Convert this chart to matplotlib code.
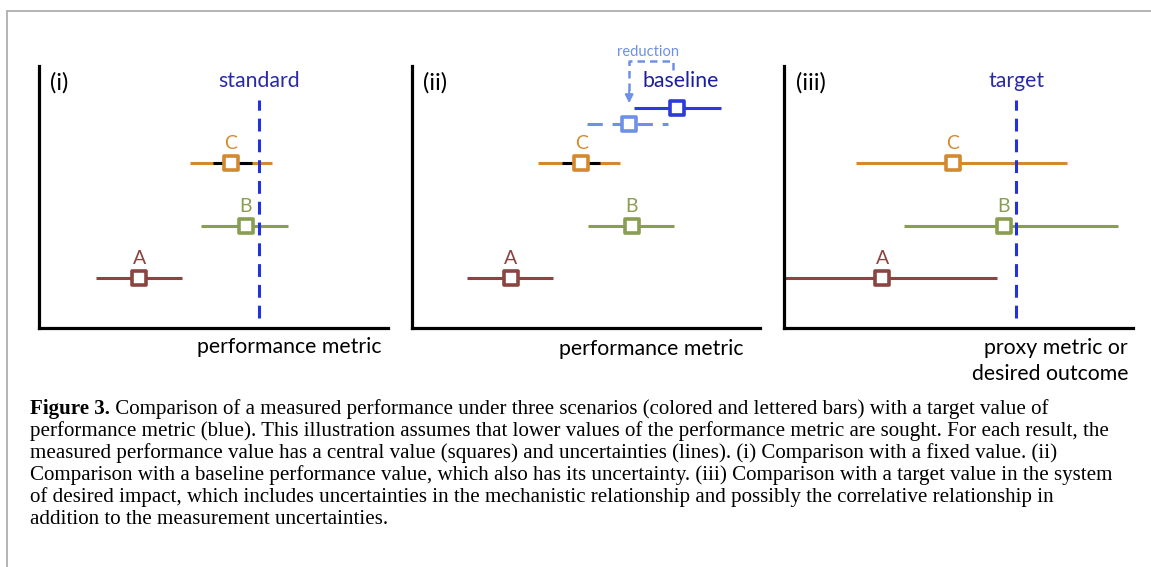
import matplotlib
matplotlib.use("Agg")
import matplotlib.pyplot as plt
from matplotlib.lines import Line2D
from matplotlib.markers import MarkerStyle

# --- data (metric units, 0-100 on each panel) ---
letters = ["A", "B", "C"]
levels = [19.1, 39.0, 63.0]
bar_colors = ["#8b4540", "#8a9e52", "#d4892e"]

p1_center = [28.7, 59.3, 55.0]
p1_low = [16.3, 46.4, 43.3]
p1_high = [41.0, 71.3, 66.8]
p1_inner = [49.9, 61.0]
p1_standard = 63.0

p2_center = [28.4, 63.2, 48.6]
p2_low = [15.8, 50.6, 36.2]
p2_high = [40.5, 75.3, 59.8]
p2_inner = [43.1, 54.0]
p2_base_level = 84.0
p2_base = [63.8, 76.1, 88.8]      # low, center, high
p2_reduced_level = 77.9
p2_reduced = [50.3, 62.4, 73.6]   # low, center, high

p3_center = [28.1, 63.0, 48.4]
p3_low = [0.3, 34.4, 20.6]
p3_high = [61.0, 95.7, 81.1]
p3_target = 66.5

ref_span = [3.8, 87.0]

caption_bold = "Figure 3."
caption_lines = [
    " Comparison of a measured performance under three scenarios (colored and lettered bars) with a target value of",
    "performance metric (blue). This illustration assumes that lower values of the performance metric are sought. For each result, the",
    "measured performance value has a central value (squares) and uncertainties (lines). (i) Comparison with a fixed value. (ii)",
    "Comparison with a baseline performance value, which also has its uncertainty. (iii) Comparison with a target value in the system",
    "of desired impact, which includes uncertainties in the mechanistic relationship and possibly the correlative relationship in",
    "addition to the measurement uncertainties.",
]

BLUE = "#2233dd"
TXT_BLUE = "#2a2aa8"
LIGHT = "#6f90e6"
SANS = ["Lato", "DejaVu Sans"]
SERIF = ["Liberation Serif", "DejaVu Serif"]
CAP_FS = 15.1
LAB_FS = 15.3

W, H = 1151, 567
fig = plt.figure(figsize=(W / 100, H / 100), dpi=100)
fig.patch.set_facecolor("white")

# grey frame of the page
fig.add_artist(Line2D([7 / W, 1], [1 - 11 / H, 1 - 11 / H], color="#b4b4b4", lw=1.4))
fig.add_artist(Line2D([7 / W, 7 / W], [0, 1 - 11 / H], color="#b4b4b4", lw=1.4))

sq = MarkerStyle("s", joinstyle="round")
MS, MEW = 9.6, 2.6


def make_axes(left_px, right_px):
    ax = fig.add_axes([left_px / W, (H - 328) / H, (right_px - left_px) / W, 262 / H])
    ax.set_xlim(0, 100)
    ax.set_ylim(0, 100)
    for s in ["top", "right"]:
        ax.spines[s].set_visible(False)
    for s in ["left", "bottom"]:
        ax.spines[s].set_linewidth(2.3)
        ax.spines[s].set_color("black")
        ax.spines[s].set_capstyle("projecting")
    ax.set_xticks([])
    ax.set_yticks([])
    ax.patch.set_alpha(0)
    return ax


def draw_bars(ax, center, low, high, inner=None):
    for i in range(len(letters)):
        ax.plot([low[i], high[i]], [levels[i], levels[i]], color=bar_colors[i],
                lw=2.2, solid_capstyle="butt", clip_on=False, zorder=2)
        if inner is not None and letters[i] == "C":
            ax.plot(inner, [levels[i], levels[i]], color="black", lw=2.2,
                    solid_capstyle="butt", zorder=2)
        ax.plot(center[i], levels[i], marker=sq, ms=MS, mew=MEW, mfc="white",
                mec=bar_colors[i], ls="none", zorder=4, clip_on=False)
        ax.text(center[i], levels[i] + 7.5, letters[i], color=bar_colors[i],
                ha="center", va="center", fontsize=14, family=SANS)


def ref_line(ax, x, label):
    ax.plot([x, x], ref_span, color=BLUE, lw=2.2, ls=(0, (4.2, 2.6)), zorder=3)
    ax.text(x, 94.3, label, color=TXT_BLUE, ha="center", va="center",
            fontsize=LAB_FS, family=SANS)


# (i)
ax1 = make_axes(39, 388)
draw_bars(ax1, p1_center, p1_low, p1_high, p1_inner)
ref_line(ax1, p1_standard, "standard")
ax1.text(3.2, 93.5, "(i)", ha="left", va="center", fontsize=17, family=SANS)
ax1.text(0.98, -0.073, "performance metric", transform=ax1.transAxes,
         ha="right", va="center", fontsize=LAB_FS, family=SANS)

# (ii)
ax2 = make_axes(412, 760)
draw_bars(ax2, p2_center, p2_low, p2_high, p2_inner)
ax2.plot([p2_base[0], p2_base[2]], [p2_base_level] * 2, color="#2a3bd8", lw=2.2,
         solid_capstyle="butt", zorder=2)
ax2.plot(p2_base[1], p2_base_level, marker=sq, ms=MS, mew=MEW, mfc="white",
         mec="#2a3bd8", ls="none", zorder=4)
ax2.plot([p2_reduced[0], p2_reduced[2]], [p2_reduced_level] * 2, color=LIGHT, lw=2.2,
         ls=(0, (5, 3.2)), zorder=2)
ax2.plot(p2_reduced[1], p2_reduced_level, marker=sq, ms=MS, mew=MEW, mfc="white",
         mec=LIGHT, ls="none", zorder=4)
# reduction bracket
top = 101.9
ax2.plot([p2_base[2] - 13.8, p2_base[2] - 13.8, p2_reduced[1], p2_reduced[1]],
         [98.5, top, top, 90.0], color=LIGHT, lw=1.8, ls=(0, (3, 2)), clip_on=False)
ax2.annotate("", xy=(p2_reduced[1], 85.8), xytext=(p2_reduced[1], 90.5),
             arrowprops=dict(arrowstyle="-|>", color=LIGHT, lw=1.5,
                             mutation_scale=12, shrinkA=0, shrinkB=0),
             annotation_clip=False)
ax2.text(67.8, 105.3, "reduction", color=LIGHT, ha="center", va="center",
         fontsize=10.5, family=SANS)
ax2.text(77.3, 94.3, "baseline", color="#1d1da0", ha="center", va="center",
         fontsize=LAB_FS, family=SANS)
ax2.text(3.2, 93.5, "(ii)", ha="left", va="center", fontsize=17, family=SANS)
ax2.text(0.954, -0.08, "performance metric", transform=ax2.transAxes,
         ha="right", va="center", fontsize=LAB_FS, family=SANS)

# (iii)
ax3 = make_axes(784, 1133)
draw_bars(ax3, p3_center, p3_low, p3_high)
ref_line(ax3, p3_target, "target")
ax3.text(3.4, 93.5, "(iii)", ha="left", va="center", fontsize=17, family=SANS)
ax3.text(0.986, -0.125, "proxy metric or\ndesired outcome", transform=ax3.transAxes,
         ha="right", va="center", fontsize=LAB_FS, family=SANS, linespacing=1.35)

# caption
renderer = fig.canvas.get_renderer()
x0 = 30 / W
y0 = 1 - 414 / H
t = fig.text(x0, y0, caption_bold, fontsize=CAP_FS, family=SERIF, weight="bold",
             va="baseline", ha="left")
bb = t.get_window_extent(renderer)
fig.text(bb.x1 / W, y0, caption_lines[0], fontsize=CAP_FS, family=SERIF,
         va="baseline", ha="left")
for k, line in enumerate(caption_lines[1:], start=1):
    fig.text(x0, 1 - (414 + 22 * k) / H, line, fontsize=CAP_FS, family=SERIF,
             va="baseline", ha="left")

fig.savefig("out.png", dpi=100, facecolor="white")
